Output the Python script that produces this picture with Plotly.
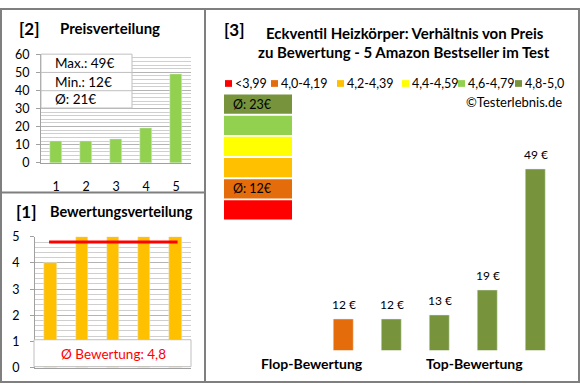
import plotly.graph_objects as go
import numpy as np

W, H = 580, 390

# ---- data ----
products = [1, 2, 3, 4, 5]
prices = [12, 12, 13, 19, 49]
ratings = [4, 5, 5, 5, 5]
price_ticks = [0, 10, 20, 30, 40, 50, 60]
rating_ticks = [0, 1, 2, 3, 4, 5]
legend_labels = ["<3,99", "4,0-4,19", "4,2-4,39", "4,4-4,59", "4,6-4,79", "4,8-5,0"]
legend_colors = ["#FF0000", "#E46C0A", "#FFC000", "#FFFF00", "#92D050", "#77933C"]
rating_bins = [0.0, 4.0, 4.2, 4.4, 4.6, 4.8]

FONT = "Lato"
GRAY = "#7F7F7F"


def px(x):
    return x / W


def py(y):
    return 1 - y / H


def bin_index(r):
    idx = 0
    for i, b in enumerate(rating_bins):
        if r >= b:
            idx = i
    return idx


bar_colors = [legend_colors[bin_index(r)] for r in ratings]

fig = go.Figure()

# chart [2] price distribution
fig.add_trace(go.Bar(x=products, y=prices, marker_color="#92D050", width=0.4,
                     xaxis="x", yaxis="y", showlegend=False, hoverinfo="skip"))
# chart [1] rating distribution
fig.add_trace(go.Bar(x=products, y=ratings, marker_color="#FFC000", width=0.4,
                     xaxis="x2", yaxis="y2", showlegend=False, hoverinfo="skip"))
# chart [3] price vs rating
fig.add_trace(go.Bar(x=products, y=prices, marker_color=bar_colors, width=0.4,
                     xaxis="x3", yaxis="y3", showlegend=False, hoverinfo="skip"))

shapes = []
annotations = []

# borders
shapes.append(dict(type="rect", xref="paper", yref="paper", x0=px(1), x1=px(579), y0=py(389), y1=py(1),
                   line=dict(color=GRAY, width=2), layer="above"))
shapes.append(dict(type="line", xref="paper", yref="paper", x0=px(205), x1=px(205), y0=py(0), y1=py(390),
                   line=dict(color=GRAY, width=2), layer="above"))
shapes.append(dict(type="line", xref="paper", yref="paper", x0=px(0), x1=px(205), y0=py(192), y1=py(192),
                   line=dict(color=GRAY, width=2), layer="above"))

# ---- chart [2] stats box ----
stats = [f"Max.: {max(prices)}€", f"Min.: {min(prices)}€", f"Ø: {round(np.mean(prices))}€"]
shapes.append(dict(type="rect", xref="paper", yref="paper", x0=px(41), x1=px(132), y0=py(104), y1=py(48),
                   fillcolor="white", line=dict(color="#BFBFBF", width=1), layer="above"))
row_y = [48, 67, 86, 104]
for i, s in enumerate(stats):
    if i > 0:
        shapes.append(dict(type="line", xref="paper", yref="paper", x0=px(41), x1=px(132),
                           y0=py(row_y[i]), y1=py(row_y[i]), line=dict(color="#BFBFBF", width=1), layer="above"))
    annotations.append(dict(xref="paper", yref="paper", x=px(53), y=py((row_y[i] + row_y[i + 1]) / 2),
                            text=s, showarrow=False, xanchor="left", yanchor="middle",
                            font=dict(family=FONT, size=13.5, color="#000")))

annotations.append(dict(xref="paper", yref="paper", x=px(17), y=py(21), text="<b>[2]</b>", showarrow=False,
                        xanchor="left", yanchor="middle", font=dict(family=FONT, size=17, color="#000")))
annotations.append(dict(xref="paper", yref="paper", x=px(58), y=py(21), text="<b>Preisverteilung</b>",
                        showarrow=False, xanchor="left", yanchor="middle", font=dict(family=FONT, size=15, color="#000")))

# ---- chart [1] ----
avg_rating = np.mean(ratings)
shapes.append(dict(type="line", xref="x2", yref="y2", x0=0.95, x1=5.07, y0=avg_rating, y1=avg_rating,
                   line=dict(color="#FF0000", width=3), layer="above"))
shapes.append(dict(type="rect", xref="paper", yref="paper", x0=px(34), x1=px(191), y0=py(373), y1=py(345),
                   fillcolor="white", line=dict(color="#BFBFBF", width=1), layer="above"))
annotations.append(dict(xref="paper", yref="paper", x=px(113), y=py(360),
                        text=f"Ø Bewertung: {avg_rating:.1f}".replace(".", ","), showarrow=False,
                        xanchor="center", yanchor="middle", font=dict(family=FONT, size=13.5, color="#FF0000")))
annotations.append(dict(xref="paper", yref="paper", x=px(14), y=py(212), text="<b>[1]</b>", showarrow=False,
                        xanchor="left", yanchor="middle", font=dict(family=FONT, size=17, color="#000")))
annotations.append(dict(xref="paper", yref="paper", x=px(48), y=py(212), text="<b>Bewertungsverteilung</b>",
                        showarrow=False, xanchor="left", yanchor="middle", font=dict(family=FONT, size=14.5, color="#000")))

# ---- chart [3] ----
annotations.append(dict(xref="paper", yref="paper", x=px(222), y=py(22), text="<b>[3]</b>", showarrow=False,
                        xanchor="left", yanchor="middle", font=dict(family=FONT, size=17, color="#000")))
annotations.append(dict(xref="paper", yref="paper", x=px(405), y=py(26),
                        text="<b>Eckventil Heizkörper: Verhältnis von Preis</b>", showarrow=False,
                        xanchor="center", yanchor="middle", font=dict(family=FONT, size=15, color="#000")))
annotations.append(dict(xref="paper", yref="paper", x=px(404), y=py(46),
                        text="<b>zu Bewertung - 5 Amazon Bestseller im Test</b>", showarrow=False,
                        xanchor="center", yanchor="middle", font=dict(family=FONT, size=15, color="#000")))

sq_left = [225, 271, 337, 402, 458, 515]
for lab, col, x0 in zip(legend_labels, legend_colors, sq_left):
    shapes.append(dict(type="rect", xref="paper", yref="paper", x0=px(x0), x1=px(x0 + 7), y0=py(82), y1=py(75),
                       fillcolor=col, line=dict(width=0), layer="above"))
    annotations.append(dict(xref="paper", yref="paper", x=px(x0 + 8), y=py(78.5), text=lab, showarrow=False,
                            xanchor="left", yanchor="middle", font=dict(family=FONT, size=12.5, color="#000")))

annotations.append(dict(xref="paper", yref="paper", x=px(564), y=py(98), text="©Testerlebnis.de", showarrow=False,
                        xanchor="right", yanchor="middle", font=dict(family=FONT, size=13, color="#000")))

# colour boxes with average price per rating class
for k, ci in enumerate(reversed(range(len(legend_colors)))):
    top = 90 + 22 * k
    shapes.append(dict(type="rect", xref="paper", yref="paper", x0=px(224), x1=px(292), y0=py(top + 20), y1=py(top),
                       fillcolor=legend_colors[ci], line=dict(width=0), layer="above"))
    members = [p for p, r in zip(prices, ratings) if bin_index(r) == ci]
    if members:
        annotations.append(dict(xref="paper", yref="paper", x=px(252), y=py(top + 10),
                                text=f"Ø: {int(np.mean(members))}€", showarrow=False,
                                xanchor="center", yanchor="middle", font=dict(family=FONT, size=12.5, color="#000")))

for p, v in zip(products, prices):
    annotations.append(dict(xref="x3", yref="y3", x=p, y=v, text=f"{v} €", showarrow=False,
                            xanchor="center", yanchor="bottom", yshift=5,
                            font=dict(family=FONT, size=12, color="#000")))

annotations.append(dict(xref="paper", yref="paper", x=px(312), y=py(370), text="<b>Flop-Bewertung</b>",
                        showarrow=False, xanchor="center", yanchor="middle", font=dict(family=FONT, size=14, color="#000")))
annotations.append(dict(xref="paper", yref="paper", x=px(474), y=py(370), text="<b>Top-Bewertung</b>",
                        showarrow=False, xanchor="center", yanchor="middle", font=dict(family=FONT, size=14, color="#000")))

axis_font = dict(family=FONT, size=12.5, color="#000")

fig.update_layout(
    width=W, height=H, margin=dict(l=0, r=0, t=0, b=0),
    paper_bgcolor="white", plot_bgcolor="white", bargap=0,
    shapes=shapes, annotations=annotations,
    xaxis=dict(domain=[px(41), px(191)], anchor="y", range=[0.5, 5.5], tickvals=products,
               ticktext=[str(p) for p in products], showline=True, linecolor="#A0A0A0", linewidth=1,
               ticks="", showgrid=False, zeroline=False, tickfont=axis_font, ticklabelstandoff=12, fixedrange=True),
    yaxis=dict(domain=[py(161), py(48)], anchor="x", range=[0, 60], tickvals=price_ticks,
               showline=True, linecolor="#A0A0A0", linewidth=1, ticks="outside", ticklen=4, tickcolor="#A0A0A0",
               showgrid=True, gridcolor="#B4B4B4", gridwidth=1, zeroline=False,
               minor=dict(dtick=2, showgrid=True, gridcolor="#CFCFCF", gridwidth=1),
               tickfont=axis_font, ticklabelstandoff=4, fixedrange=True),
    xaxis2=dict(domain=[px(35), px(191)], anchor="y2", range=[0.5, 5.5], showticklabels=False,
                showline=True, linecolor="#A0A0A0", showgrid=False, zeroline=False, ticks="", fixedrange=True),
    yaxis2=dict(domain=[py(374), py(238)], anchor="x2", range=[0, 5], tickvals=rating_ticks,
                showline=True, linecolor="#A0A0A0", linewidth=1, ticks="outside", ticklen=4, tickcolor="#A0A0A0",
                showgrid=True, gridcolor="#B4B4B4", gridwidth=1, zeroline=False,
                minor=dict(dtick=0.2, showgrid=True, gridcolor="#CFCFCF", gridwidth=1),
                tickfont=axis_font, ticklabelstandoff=8, fixedrange=True),
    xaxis3=dict(domain=[px(319.5), px(559.5)], anchor="y3", range=[0.5, 5.5], visible=False, fixedrange=True),
    yaxis3=dict(domain=[py(356), py(150)], anchor="x3", range=[4.2, 53.2], visible=False, fixedrange=True),
)

fig.write_html("out.html", post_script="document.body.style.margin='0';",
               config={"displayModeBar": False})
